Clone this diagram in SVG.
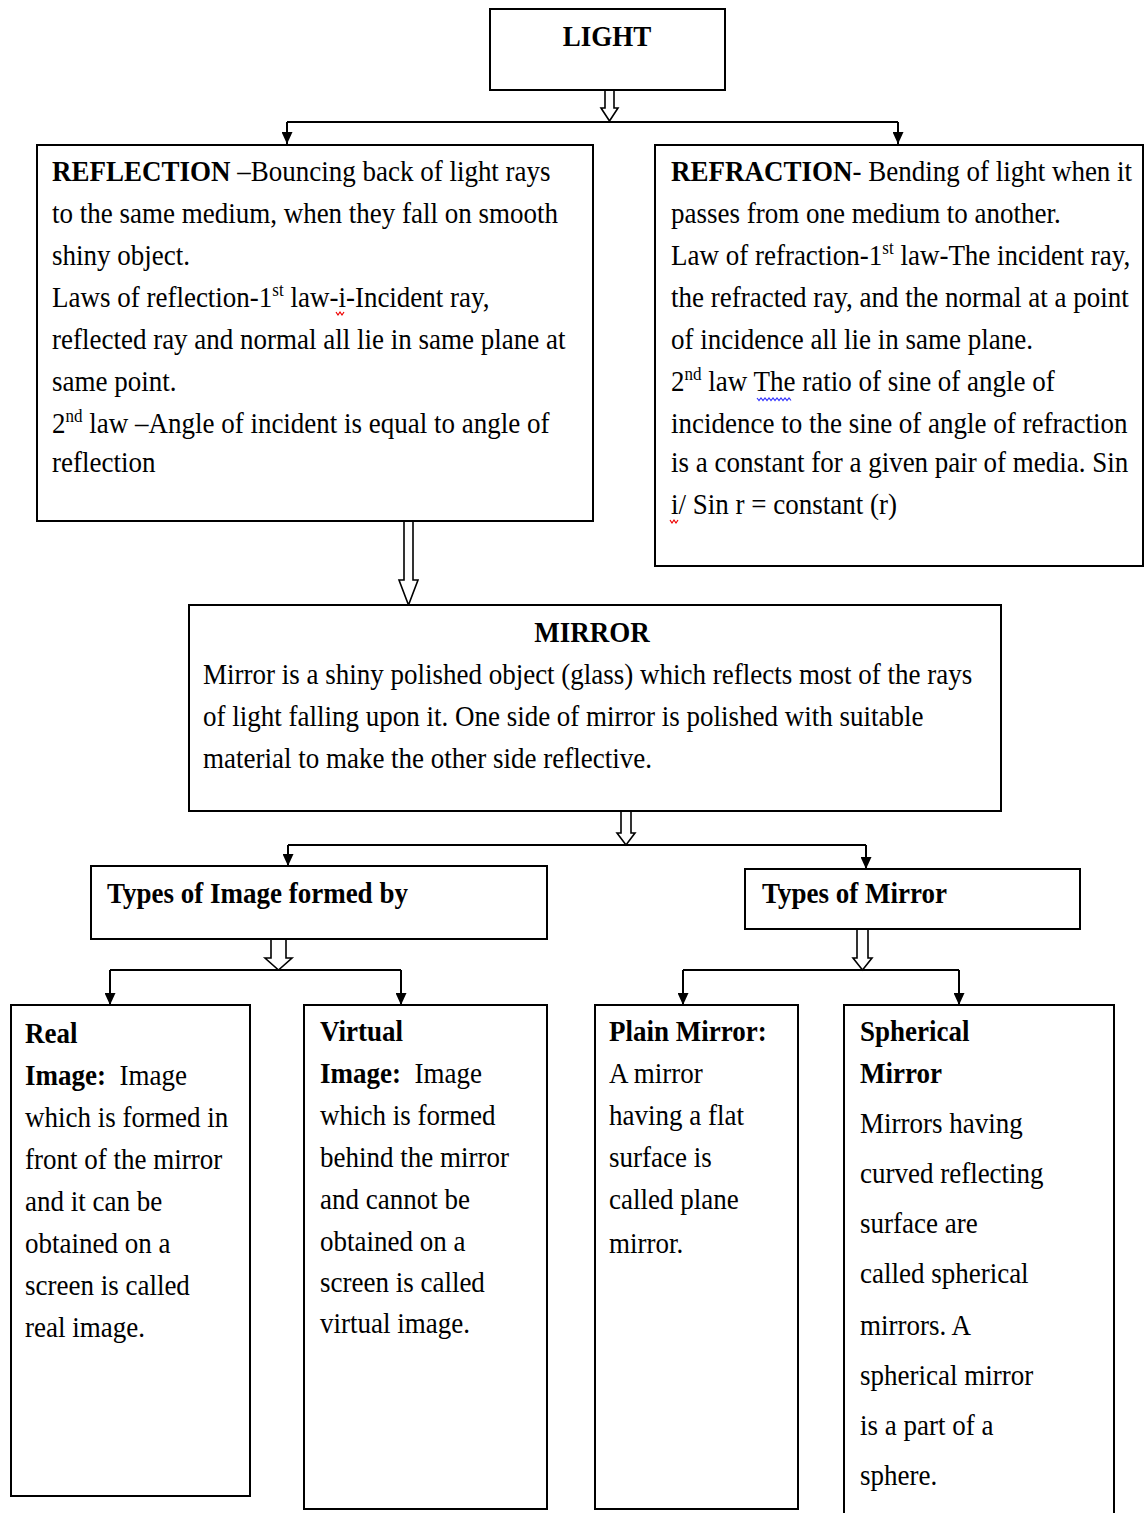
<svg xmlns="http://www.w3.org/2000/svg" width="1144" height="1513" viewBox="0 0 1144 1513">
<style>
.box{fill:#fff;stroke:#000;stroke-width:2}
.t{font-family:"Liberation Serif","Times New Roman",serif;font-size:27px;fill:#000;transform-box:fill-box;transform-origin:0 80%;transform:scaleY(1.1)}
.b{font-weight:bold}
.sup{font-size:17px}
.ln{fill:none;stroke:#000;stroke-width:2}
.ha{fill:#fff;stroke:#000;stroke-width:1.6}
.sq{fill:none;stroke-width:1.2}
</style>
<defs>
<marker id="ah" markerWidth="12" markerHeight="11" refX="12" refY="5.5" orient="auto" markerUnits="userSpaceOnUse" viewBox="0 0 12 11">
<path d="M0,0 L12,5.5 L0,11 Z" fill="#000"/>
</marker>
</defs>

<g id="connectors">
<path class="ha" d="M605,90 V108 H601 L609.5,121 L618,108 H614 V90 Z"/>
<path class="ln" d="M287,122 H898"/>
<path class="ln" d="M287,122 V144" marker-end="url(#ah)"/>
<path class="ln" d="M898,122 V144" marker-end="url(#ah)"/>
<path class="ha" d="M404,519 V580 H399 L408.5,605 L418,580 H413 V519 Z"/>
<path class="ha" d="M621,811 V833 H617 L626,845 L635,833 H631 V811 Z"/>
<path class="ln" d="M288,845 H866"/>
<path class="ln" d="M288,845 V866" marker-end="url(#ah)"/>
<path class="ln" d="M866,845 V869" marker-end="url(#ah)"/>
<path class="ha" d="M271,939 V958 H265 L278.5,970 L292,958 H286 V939 Z"/>
<path class="ln" d="M110,970 H401"/>
<path class="ln" d="M110,970 V1005" marker-end="url(#ah)"/>
<path class="ln" d="M401,970 V1005" marker-end="url(#ah)"/>
<path class="ha" d="M857,927 V958 H853 L862.5,970 L872,958 H868 V927 Z"/>
<path class="ln" d="M683,970 H959"/>
<path class="ln" d="M683,970 V1005" marker-end="url(#ah)"/>
<path class="ln" d="M959,970 V1005" marker-end="url(#ah)"/>
</g>

<g id="light">
<rect class="box" x="490" y="9" width="235" height="81"/>
<text class="t b" x="607" y="46" text-anchor="middle">LIGHT</text>
</g>

<g id="reflection">
<rect class="box" x="37" y="145" width="556" height="376"/>
<text class="t" x="52" y="181"><tspan class="b">REFLECTION</tspan> –Bouncing back of light rays</text>
<text class="t" x="52" y="223">to the same medium, when they fall on smooth</text>
<text class="t" x="52" y="265">shiny object.</text>
<text class="t" x="52" y="307">Laws of reflection-1<tspan class="sup" dy="-10">st</tspan><tspan dy="10"> law-i-Incident ray,</tspan></text>
<text class="t" x="52" y="349">reflected ray and normal all lie in same plane at</text>
<text class="t" x="52" y="391">same point.</text>
<text class="t" x="52" y="433">2<tspan class="sup" dy="-10">nd</tspan><tspan dy="10"> law –Angle of incident is equal to angle of</tspan></text>
<text class="t" x="52" y="472">reflection</text>
<path class="sq" stroke="#e00" d="M336,312 l2,3 l2,-3 l2,3 l2,-3"/>
</g>

<g id="refraction">
<rect class="box" x="655" y="145" width="488" height="421"/>
<text class="t" x="671" y="181"><tspan class="b">REFRACTION</tspan>- Bending of light when it</text>
<text class="t" x="671" y="223">passes from one medium to another.</text>
<text class="t" x="671" y="265">Law of refraction-1<tspan class="sup" dy="-10">st</tspan><tspan dy="10"> law-The incident ray,</tspan></text>
<text class="t" x="671" y="307">the refracted ray, and the normal at a point</text>
<text class="t" x="671" y="349">of incidence all lie in same plane.</text>
<text class="t" x="671" y="391">2<tspan class="sup" dy="-10">nd</tspan><tspan dy="10"> law The ratio of sine of angle of</tspan></text>
<text class="t" x="671" y="433">incidence to the sine of angle of refraction</text>
<text class="t" x="671" y="472">is a constant for a given pair of media. Sin</text>
<text class="t" x="671" y="514">i/ Sin r = constant (r)</text>
<path class="sq" stroke="#33f" d="M757,398 l2,2.5 l2,-2.5 l2,2.5 l2,-2.5 l2,2.5 l2,-2.5 l2,2.5 l2,-2.5 l2,2.5 l2,-2.5 l2,2.5 l2,-2.5 l2,2.5 l2,-2.5 l2,2.5 l2,-2.5 l2,2.5"/>
<path class="sq" stroke="#e00" d="M670,520 l2,3 l2,-3 l2,3 l2,-3"/>
</g>

<g id="mirror">
<rect class="box" x="189" y="605" width="812" height="206"/>
<text class="t b" x="592" y="642" text-anchor="middle">MIRROR</text>
<text class="t" x="203" y="684">Mirror is a shiny polished object (glass) which reflects most of the rays</text>
<text class="t" x="203" y="726">of light falling upon it. One side of mirror is polished with suitable</text>
<text class="t" x="203" y="768">material to make the other side reflective.</text>
</g>

<g id="types-image">
<rect class="box" x="91" y="866" width="456" height="73"/>
<text class="t b" x="107" y="903">Types of Image formed by</text>
</g>

<g id="types-mirror">
<rect class="box" x="745" y="869" width="335" height="60"/>
<text class="t b" x="762" y="903">Types of Mirror</text>
</g>

<g id="real">
<rect class="box" x="11" y="1005" width="239" height="491"/>
<text class="t b" x="25" y="1043">Real</text>
<text class="t" x="25" y="1085"><tspan class="b">Image:</tspan>&#160; Image</text>
<text class="t" x="25" y="1127">which is formed in</text>
<text class="t" x="25" y="1169">front of the mirror</text>
<text class="t" x="25" y="1211">and it can be</text>
<text class="t" x="25" y="1253">obtained on a</text>
<text class="t" x="25" y="1295">screen is called</text>
<text class="t" x="25" y="1337">real image.</text>
</g>

<g id="virtual">
<rect class="box" x="304" y="1005" width="243" height="504"/>
<text class="t b" x="320" y="1041">Virtual</text>
<text class="t" x="320" y="1083"><tspan class="b">Image:</tspan>&#160; Image</text>
<text class="t" x="320" y="1125">which is formed</text>
<text class="t" x="320" y="1167">behind the mirror</text>
<text class="t" x="320" y="1209">and cannot be</text>
<text class="t" x="320" y="1251">obtained on a</text>
<text class="t" x="320" y="1292">screen is called</text>
<text class="t" x="320" y="1333">virtual image.</text>
</g>

<g id="plain">
<rect class="box" x="595" y="1005" width="203" height="504"/>
<text class="t b" x="609" y="1041">Plain Mirror:</text>
<text class="t" x="609" y="1083">A mirror</text>
<text class="t" x="609" y="1125">having a flat</text>
<text class="t" x="609" y="1167">surface is</text>
<text class="t" x="609" y="1209">called plane</text>
<text class="t" x="609" y="1253">mirror.</text>
</g>

<g id="spherical">
<path class="ln" d="M844,1513 V1005 H1114 V1513"/>
<text class="t b" x="860" y="1041">Spherical</text>
<text class="t b" x="860" y="1083">Mirror</text>
<text class="t" x="860" y="1133">Mirrors having</text>
<text class="t" x="860" y="1183">curved reflecting</text>
<text class="t" x="860" y="1233">surface are</text>
<text class="t" x="860" y="1283">called spherical</text>
<text class="t" x="860" y="1335">mirrors. A</text>
<text class="t" x="860" y="1385">spherical mirror</text>
<text class="t" x="860" y="1435">is a part of a</text>
<text class="t" x="860" y="1485">sphere.</text>
</g>
</svg>
